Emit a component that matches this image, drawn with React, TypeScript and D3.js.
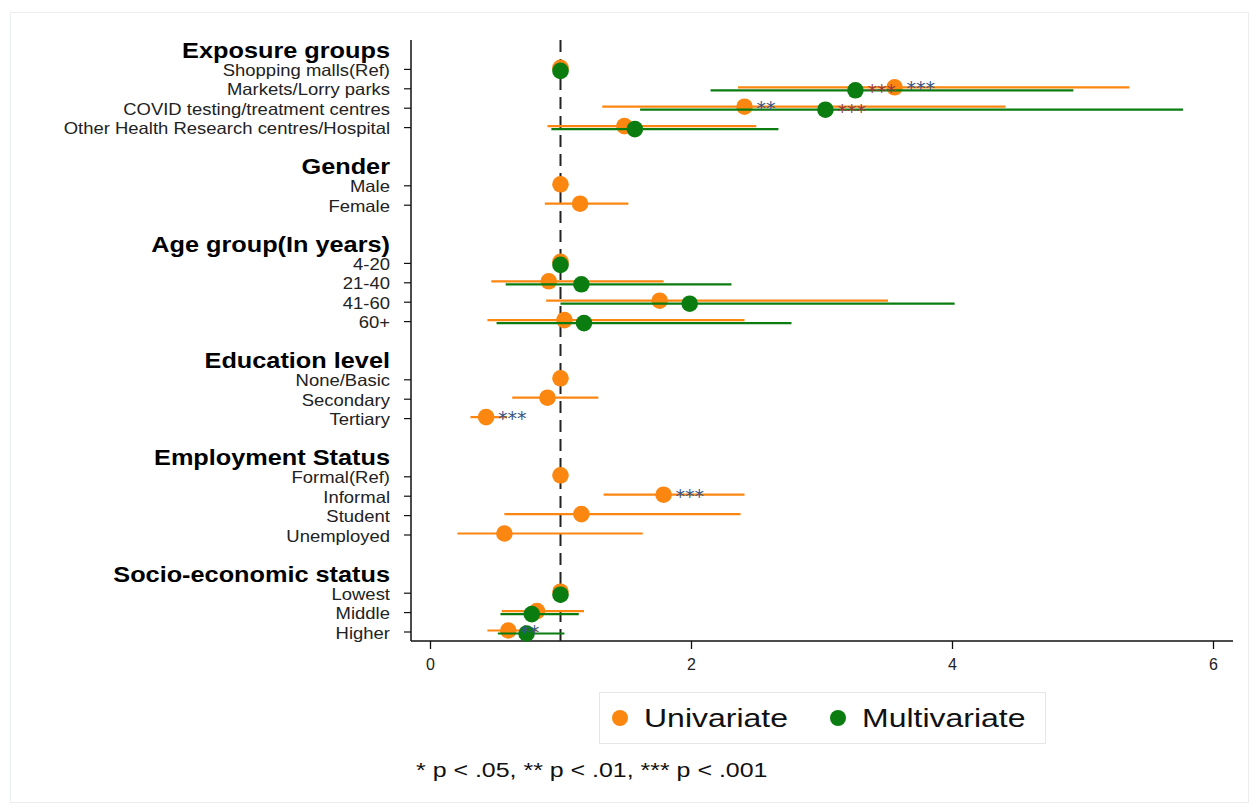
import React, { useEffect, useRef } from "react";
import * as d3 from "d3";

// group headers and their rows
const groups = [
  "Exposure groups",
  "Gender",
  "Age group(In years)",
  "Education level",
  "Employment Status",
  "Socio-economic status",
];
const groupItems = [
  ["Shopping malls(Ref)", "Markets/Lorry parks", "COVID testing/treatment centres", "Other Health Research centres/Hospital"],
  ["Male", "Female"],
  ["4-20", "21-40", "41-60", "60+"],
  ["None/Basic", "Secondary", "Tertiary"],
  ["Formal(Ref)", "Informal", "Student", "Unemployed"],
  ["Lowest", "Middle", "Higher"],
];

// univariate odds ratios (one per item, in order)
const uniEst = [1, 3.56, 2.41, 1.49, 1, 1.15, 1, 0.91, 1.76, 1.03, 1, 0.9, 0.43, 1, 1.79, 1.16, 0.57, 1, 0.82, 0.6];
const uniLo = [null, 2.36, 1.32, 0.9, null, 0.88, null, 0.47, 0.89, 0.44, null, 0.63, 0.31, null, 1.33, 0.57, 0.21, null, 0.55, 0.44];
const uniHi = [null, 5.36, 4.41, 2.5, null, 1.52, null, 1.79, 3.51, 2.41, null, 1.29, 0.59, null, 2.41, 2.38, 1.63, null, 1.18, 0.82];
const uniStars = ["", "***", "**", "", "", "", "", "", "", "", "", "", "***", "", "***", "", "", "", "", "**"];

// multivariate odds ratios
const multiEst = [1, 3.26, 3.03, 1.57, null, null, 1, 1.16, 1.99, 1.18, null, null, null, null, null, null, null, 1, 0.78, 0.74];
const multiLo = [null, 2.15, 1.61, 0.93, null, null, null, 0.58, 1.0, 0.51, null, null, null, null, null, null, null, null, 0.54, 0.52];
const multiHi = [null, 4.93, 5.77, 2.67, null, null, null, 2.31, 4.02, 2.77, null, null, null, null, null, null, null, null, 1.14, 1.03];
const multiStars = ["", "***", "***", "", "", "", "", "", "", "", "", "", "", "", "", "", "", "", "", ""];

const xTicks = [0, 2, 4, 6];

const ORANGE = "#fb8610";
const GREEN = "#0b7d10";
const NAVY = "#3a5584";
const RED = "#9a3a3a";
const FONT = "Liberation Sans, Arial, sans-serif";

const App = () => {
  const svgRef = useRef<SVGSVGElement>(null);

  useEffect(() => {
    const svg = d3.select(svgRef.current);
    svg.selectAll("*").remove();

    // build row list: header, items, blank, ...
    const rows: { label: string; header: boolean; item: number }[] = [];
    let k = 0;
    groups.forEach((g, gi) => {
      rows.push({ label: g, header: true, item: -1 });
      groupItems[gi].forEach((lab) => {
        rows.push({ label: lab, header: false, item: k });
        k++;
      });
      if (gi < groups.length - 1) rows.push({ label: "", header: false, item: -2 });
    });

    const x = d3.scaleLinear().domain([0, 6]).range([430, 1213]);
    const y = d3.scaleLinear().domain([0, rows.length - 1]).range([50, 632]);
    const itemY: number[] = [];
    rows.forEach((r, i) => {
      if (r.item >= 0) itemY[r.item] = y(i);
    });

    const left = 411;
    const right = 1233;
    const top = 40;
    const bottom = 641;

    // text that is a bit stretched sideways, like the original export
    const wideText = (tx: number, ty: number, sx: number) =>
      svg.append("text")
        .attr("transform", `translate(${tx},${ty}) scale(${sx},1)`)
        .attr("font-family", FONT);

    // outer frame
    svg.append("rect")
      .attr("x", 10.5).attr("y", 12.5).attr("width", 1238).attr("height", 790)
      .attr("fill", "#fff").attr("stroke", "#eceeee").attr("stroke-width", 1);

    // y axis
    svg.append("line")
      .attr("x1", left).attr("x2", left).attr("y1", top).attr("y2", bottom)
      .attr("stroke", "#111").attr("stroke-width", 1.5);

    rows.forEach((r, i) => {
      if (r.header) {
        wideText(390, y(i) + 8, 1.15)
          .attr("text-anchor", "end")
          .attr("font-weight", "bold")
          .attr("font-size", 22)
          .attr("fill", "#000")
          .text(r.label);
      } else if (r.item >= 0) {
        svg.append("line")
          .attr("x1", left - 7).attr("x2", left).attr("y1", y(i)).attr("y2", y(i))
          .attr("stroke", "#111").attr("stroke-width", 1.2);
        wideText(390, y(i) + 6.5, 1.12)
          .attr("text-anchor", "end")
          .attr("font-size", 16.5)
          .attr("fill", "#222")
          .text(r.label);
      }
    });

    // x axis
    svg.append("line")
      .attr("x1", left).attr("x2", right).attr("y1", bottom).attr("y2", bottom)
      .attr("stroke", "#111").attr("stroke-width", 1.5);
    const xa = svg.append("g")
      .attr("transform", `translate(0,${bottom})`)
      .call(d3.axisBottom(x).tickValues(xTicks).tickSize(8).tickPadding(10).tickFormat(d3.format("d")));
    xa.select(".domain").remove();
    xa.selectAll("line").attr("stroke", "#111").attr("stroke-width", 1.3);
    xa.selectAll("text")
      .attr("font-family", FONT)
      .attr("font-size", 16).attr("fill", "#222");

    // reference line at 1
    svg.append("line")
      .attr("x1", x(1)).attr("x2", x(1)).attr("y1", top).attr("y2", bottom)
      .attr("stroke", "#222").attr("stroke-width", 2)
      .attr("stroke-dasharray", "12,7");

    const drawSeries = (est: (number | null)[], lo: (number | null)[], hi: (number | null)[], stars: string[], off: number, color: string, starColor: string) => {
      est.forEach((e, i) => {
        if (e == null) return;
        const yy = itemY[i] + off;
        if (lo[i] != null && hi[i] != null) {
          svg.append("line")
            .attr("x1", x(lo[i] as number)).attr("x2", x(hi[i] as number))
            .attr("y1", yy).attr("y2", yy)
            .attr("stroke", color).attr("stroke-width", 2.2);
        }
        svg.append("circle")
          .attr("cx", x(e)).attr("cy", yy).attr("r", 8.3)
          .attr("fill", color);
      });
      return () => {
        est.forEach((e, i) => {
          if (e == null || !stars[i]) return;
          svg.append("text")
            .attr("x", x(e) + 12).attr("y", itemY[i] + off + 8)
            .attr("font-family", "DejaVu Sans, sans-serif")
            .attr("font-size", 19)
            .attr("fill", starColor)
            .text(stars[i]);
        });
      };
    };

    const uniLabels = drawSeries(uniEst, uniLo, uniHi, uniStars, -1.5, ORANGE, NAVY);
    const multiLabels = drawSeries(multiEst, multiLo, multiHi, multiStars, 1.5, GREEN, RED);
    multiLabels();
    uniLabels();

    // legend
    svg.append("rect")
      .attr("x", 599.5).attr("y", 692.5).attr("width", 446).attr("height", 51)
      .attr("fill", "#fff").attr("stroke", "#e6e6e6");
    const legend = [
      { label: "Univariate", color: ORANGE, x: 620 },
      { label: "Multivariate", color: GREEN, x: 838 },
    ];
    legend.forEach((l) => {
      svg.append("circle").attr("cx", l.x).attr("cy", 718).attr("r", 8).attr("fill", l.color);
      wideText(l.x + 24, 727, 1.28)
        .attr("font-size", 25).attr("fill", "#111")
        .text(l.label);
    });

    wideText(416, 777, 1.28)
      .attr("font-size", 19.5).attr("fill", "#111")
      .text("* p < .05, ** p < .01, *** p < .001");
  }, []);

  return (
    <svg
      ref={svgRef}
      width={1251}
      height={806}
      style={{ position: "absolute", left: 0, top: 0, background: "#fff" }}
    ></svg>
  );
};

export default App;
